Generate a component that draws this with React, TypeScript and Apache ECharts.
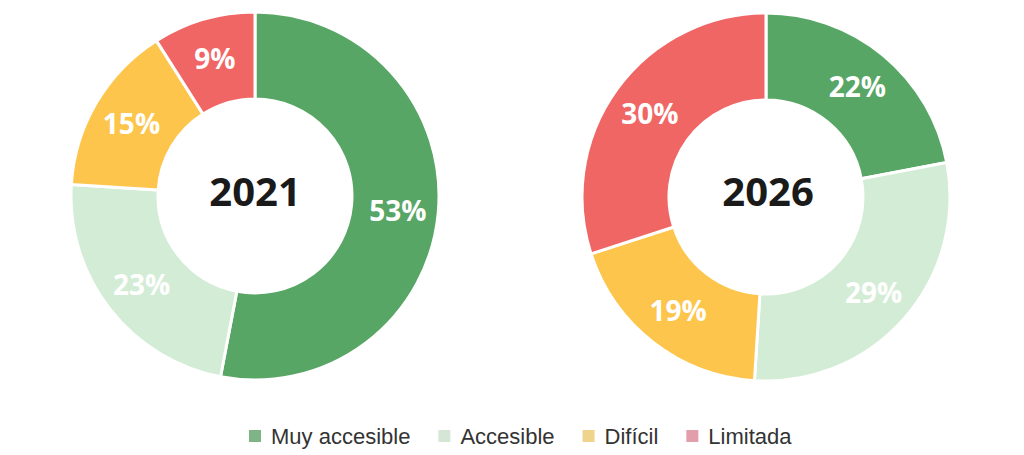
import React, { useEffect, useRef } from "react";
import * as echarts from "echarts";

const categories = ["Muy accesible", "Accesible", "Difícil", "Limitada"];
const values2021 = [53, 23, 15, 9];
const values2026 = [22, 29, 19, 30];
const years = ["2021", "2026"];
const sliceColors = ["#58a665", "#d3ecd5", "#fdc54b", "#f06665"];
const legendColors = ["#7fb487", "#d6e6d6", "#efd48c", "#e29fab"];

export default function App() {
  const ref = useRef<HTMLDivElement>(null);
  useEffect(() => {
    document.body.style.margin = "0";
    const chart = echarts.init(ref.current!, undefined, { renderer: "svg" });
    const makeSeries = (vals: number[], center: [number, number], year: string) => ({
      type: "pie",
      name: year,
      center,
      radius: [97, 184],
      startAngle: 90,
      clockwise: true,
      avoidLabelOverlap: false,
      itemStyle: { borderColor: "#ffffff", borderWidth: 3 },
      label: {
        show: true,
        position: "inside",
        formatter: "{c}%",
        color: "#ffffff",
        fontSize: 28,
        fontWeight: "bold",
        fontFamily: "Open Sans",
      },
      labelLine: { show: false },
      emphasis: { disabled: true },
      data: categories.map((c, i) => ({
        name: c,
        value: vals[i],
        itemStyle: { color: sliceColors[i] },
      })),
    });
    const centerText = (text: string, x: number, y: number) => ({
      type: "text",
      x,
      y,
      silent: true,
      style: {
        text,
        align: "center",
        verticalAlign: "middle",
        fontSize: 40,
        fontWeight: "bold",
        fill: "#1a1a1a",
        fontFamily: "Open Sans",
      },
    });
    chart.setOption({
      animation: false,
      backgroundColor: "#ffffff",
      legend: {
        top: 420,
        left: 242,
        itemWidth: 14,
        itemHeight: 14,
        itemGap: 26,
        icon: "rect",
        textStyle: {
          fontSize: 22,
          color: "#333333",
          fontFamily: "Liberation Sans",
          padding: [0, 0, 0, 4],
        },
        data: categories.map((c, i) => ({ name: c, itemStyle: { color: legendColors[i] } })),
      },
      series: [
        makeSeries(values2021, [255, 196], years[0]),
        makeSeries(values2026, [766, 197], years[1]),
      ],
      graphic: [centerText(years[0], 255, 190), centerText(years[1], 768, 190)],
    });
    return () => chart.dispose();
  }, []);
  return <div ref={ref} style={{ width: 1024, height: 455 }} />;
}
